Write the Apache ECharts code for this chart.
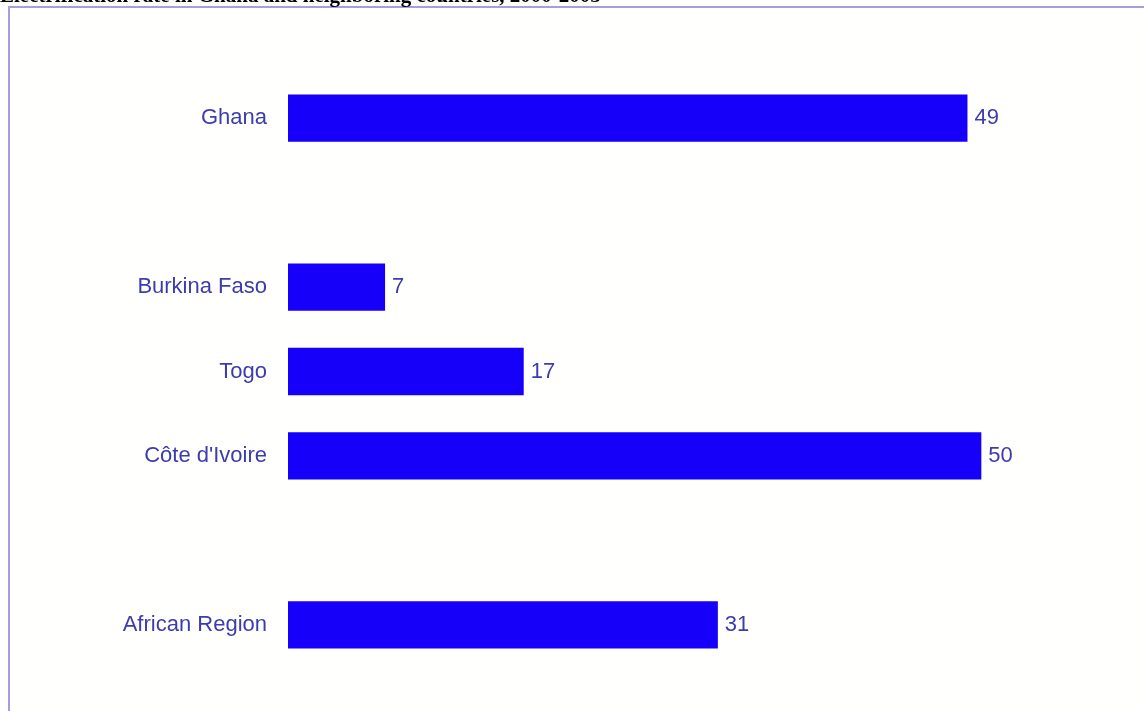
<!DOCTYPE html>
<html>
<head>
<meta charset="utf-8">
<script src="https://cdn.jsdelivr.net/npm/echarts@6/dist/echarts.min.js"></script>
<style>
html,body{margin:0;padding:0;background:#ffffff;}
#chart{width:1144px;height:711px;}
</style>
</head>
<body>
<div id="chart"></div>
<script>
const titleText = "Electrification rate in Ghana and neighboring countries, 2000-2005";
const categories = ["Ghana", " ", "Burkina Faso", "Togo", "Côte d'Ivoire", "  ", "African Region"];
const values = [49, null, 7, 17, 50, null, 31];

const chart = echarts.init(document.getElementById('chart'), null, {renderer: 'canvas'});
const textColor = '#3c3cae';
chart.setOption({
  animation: false,
  backgroundColor: '#ffffff',
  graphic: [
    {type: 'rect', z: -10, shape: {x: 9, y: 7, width: 1300, height: 900},
     style: {fill: '#fffffd', stroke: '#a59ee2', lineWidth: 2}},
    {type: 'text', left: 0, top: -14, z: 10,
     style: {text: titleText, font: 'bold 21px "Liberation Serif"', fill: '#000000'}}
  ],
  grid: {left: 288, right: 24, top: 76, bottom: 44, containLabel: false},
  xAxis: {
    type: 'value', min: 0, max: 60,
    show: false
  },
  yAxis: {
    type: 'category', data: categories, inverse: true,
    axisLine: {show: false}, axisTick: {show: false},
    axisLabel: {color: textColor, fontFamily: 'Liberation Sans', fontSize: 22, margin: 21}
  },
  series: [{
    type: 'bar', data: values, barWidth: '56%',
    itemStyle: {color: '#1600fa'},
    label: {show: true, position: 'right', distance: 7, color: textColor,
            fontFamily: 'Liberation Sans', fontSize: 22}
  }]
});
</script>
</body>
</html>
